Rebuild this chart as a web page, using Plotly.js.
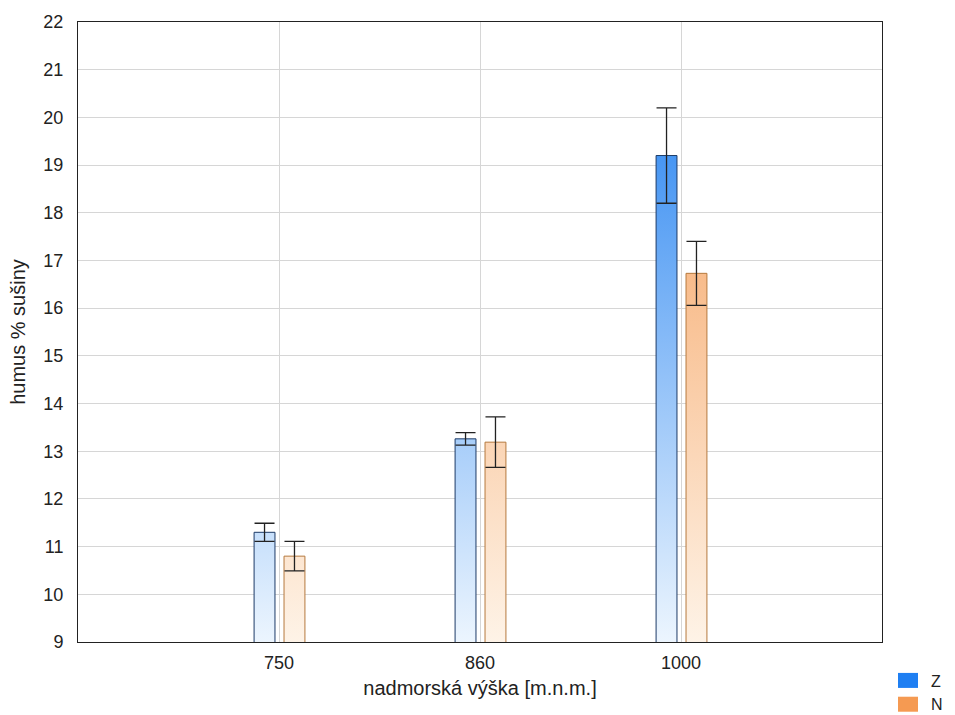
<!DOCTYPE html>
<html>
<head>
<meta charset="utf-8">
<script src="https://cdn.plot.ly/plotly-3.0.1.min.js"></script>
<style>html,body{margin:0;padding:0;background:#fff;}#chart{width:955px;height:715px;}</style>
</head>
<body>
<div id="chart"></div>
<script>
const categories = ["750", "860", "1000"];
const seriesNames = ["Z", "N"];
const zValues = [11.3, 13.26, 19.2];
const zErrors = [0.19, 0.13, 1.0];
const nValues = [10.8, 13.19, 16.73];
const nErrors = [0.31, 0.53, 0.67];
const yTicks = [9, 10, 11, 12, 13, 14, 15, 16, 17, 18, 19, 20, 21, 22];

const zColor = "#1f7ff2";
const nColor = "#f59a52";

const traces = [
  {
    type: "bar", name: seriesNames[0], x: categories, y: zValues,
    offset: -0.124, width: 0.104,
    marker: { color: zColor, line: { color: "#1c3a66", width: 1 } },
    error_y: { type: "data", array: zErrors, visible: true, color: "#222", thickness: 1.3, width: 10 }
  },
  {
    type: "bar", name: seriesNames[1], x: categories, y: nValues,
    offset: 0.025, width: 0.104,
    marker: { color: nColor, line: { color: "#b5793d", width: 1 } },
    error_y: { type: "data", array: nErrors, visible: true, color: "#222", thickness: 1.3, width: 10 }
  }
];

const layout = {
  width: 955, height: 715,
  margin: { l: 78, r: 73, t: 22, b: 73, autoexpand: false },
  paper_bgcolor: "#fff", plot_bgcolor: "#fff",
  barmode: "overlay",
  font: { family: "Liberation Sans, Arial, sans-serif", color: "#222", size: 18 },
  showlegend: true,
  legend: {
    xref: "container", yref: "container",
    x: 0.933, xanchor: "left", y: 0.072, yanchor: "top",
    font: { size: 16, color: "#222" }, itemwidth: 30, tracegroupgap: 0,
    bgcolor: "rgba(0,0,0,0)"
  },
  xaxis: {
    type: "category", range: [-1, 3],
    showgrid: true, gridcolor: "#d6d6d6", gridwidth: 1,
    showline: true, linecolor: "#222", linewidth: 1, mirror: true,
    ticks: "", ticklabelstandoff: 4, zeroline: false, automargin: false,
    tickfont: { size: 18 },
    title: { text: "nadmorská výška [m.n.m.]", font: { size: 20 }, standoff: 9 },
    fixedrange: true
  },
  yaxis: {
    range: [9, 22], tickvals: yTicks,
    showgrid: true, gridcolor: "#d6d6d6", gridwidth: 1,
    showline: true, linecolor: "#222", linewidth: 1, mirror: true,
    ticks: "", ticklabelstandoff: 10, zeroline: false, automargin: false,
    tickfont: { size: 18 },
    title: { text: "humus % sušiny", font: { size: 20 }, standoff: 12 },
    fixedrange: true
  }
};

Plotly.newPlot("chart", traces, layout, { staticPlot: true, displayModeBar: false }).then(function (gd) {
  const svg = gd.querySelector(".main-svg");
  const ns = "http://www.w3.org/2000/svg";
  const plotH = gd._fullLayout._size.h;
  let defs = svg.querySelector("defs");
  if (!defs) { defs = document.createElementNS(ns, "defs"); svg.insertBefore(defs, svg.firstChild); }
  function addGrad(id, top, bottom) {
    const g = document.createElementNS(ns, "linearGradient");
    g.setAttribute("id", id);
    g.setAttribute("gradientUnits", "userSpaceOnUse");
    g.setAttribute("x1", "0"); g.setAttribute("x2", "0");
    g.setAttribute("y1", String(plotH)); g.setAttribute("y2", "0");
    const s1 = document.createElementNS(ns, "stop");
    s1.setAttribute("offset", "0"); s1.setAttribute("stop-color", bottom);
    const s2 = document.createElementNS(ns, "stop");
    s2.setAttribute("offset", "1"); s2.setAttribute("stop-color", top);
    g.appendChild(s1); g.appendChild(s2);
    defs.appendChild(g);
  }
  addGrad("gradZ", "#1a7cf0", "#ecf5fe");
  addGrad("gradN", "#f4964c", "#fef3e7");
  const groups = gd.querySelectorAll(".barlayer .trace");
  const ids = ["gradZ", "gradN"];
  groups.forEach(function (tg, i) {
    tg.querySelectorAll(".point path").forEach(function (p) {
      p.style.fill = "url(#" + ids[i] + ")";
      p.style.fillOpacity = "1";
    });
  });
  gd.querySelectorAll(".legend [clip-path]").forEach(function (el) {
    el.removeAttribute("clip-path");
  });
  const leg = gd.querySelector(".legend");
  if (leg) leg.removeAttribute("clip-path");
  gd.querySelectorAll(".legend .legendpoints path").forEach(function (p) {
    p.setAttribute("d", "M27,7.5H7V-7.5H27Z");
    p.removeAttribute("transform");
    p.style.strokeWidth = "0";
  });
});
</script>
</body>
</html>
